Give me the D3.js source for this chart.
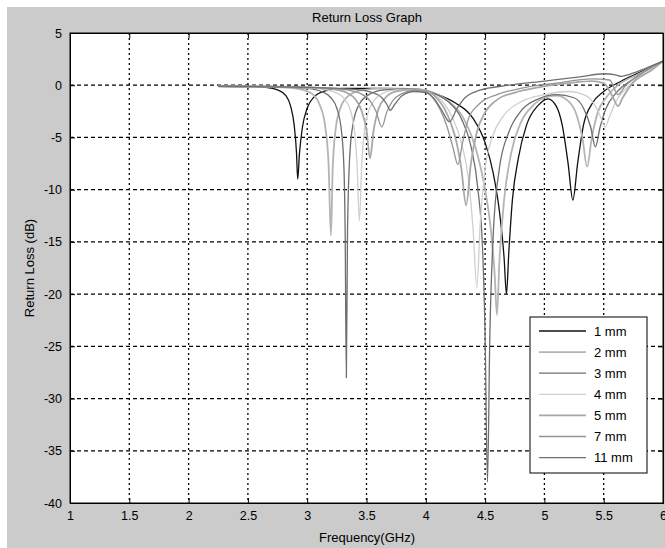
<!DOCTYPE html>
<html>
<head>
<meta charset="utf-8">
<script src="https://cdn.jsdelivr.net/npm/d3@7"></script>
<style>
  body { margin: 0; background: #fff; }
  text { font-family: "Liberation Sans", Arial, sans-serif; }
</style>
</head>
<body>
<svg id="chart" width="665" height="548"></svg>
<script>
// legend names
var names = ["1 mm", "2 mm", "3 mm", "4 mm", "5 mm", "7 mm", "11 mm"];

// [frequency GHz, return loss dB]
var s1 = [[2.25,-0.1],[2.5,-0.12],[2.65,-0.2],[2.75,-0.45],[2.82,-1.0],[2.86,-2.0],[2.89,-3.8],[2.91,-6.5],[2.92,-9],[2.935,-6.5],[2.96,-4.0],[3.0,-2.2],[3.06,-1.1],[3.15,-0.55],[3.3,-0.3],[3.6,-0.3],[3.9,-0.4],[4.1,-0.9],[4.25,-1.7],[4.4,-3.2],[4.5,-5.5],[4.57,-8.5],[4.62,-12],[4.66,-16.5],[4.68,-20],[4.70,-16],[4.73,-11],[4.78,-7],[4.85,-3.8],[4.95,-1.9],[5.03,-1.3],[5.1,-2.0],[5.15,-3.8],[5.2,-7.5],[5.24,-11],[5.28,-7.5],[5.33,-3.8],[5.4,-1.8],[5.5,-0.6],[5.65,0.4],[5.8,1.2],[6.0,2.3]];
var s2 = [[2.25,-0.1],[2.6,-0.12],[2.85,-0.25],[2.98,-0.5],[3.06,-1.0],[3.11,-2.0],[3.15,-3.8],[3.18,-7.5],[3.20,-14.4],[3.215,-8],[3.24,-4.2],[3.28,-2.2],[3.34,-1.1],[3.45,-0.5],[3.65,-0.3],[3.95,-0.4],[4.1,-0.9],[4.2,-1.6],[4.32,-3.2],[4.42,-6],[4.5,-10],[4.55,-14],[4.58,-18],[4.60,-22],[4.62,-17],[4.66,-11],[4.72,-6.5],[4.8,-3.6],[4.9,-2],[5.0,-1.2],[5.1,-1.0],[5.2,-1.5],[5.27,-2.8],[5.32,-5],[5.36,-7.8],[5.40,-5],[5.45,-2.6],[5.52,-1.2],[5.62,0],[5.8,1.1],[6.0,2.3]];
var s3 = [[2.25,-0.1],[2.7,-0.12],[3.0,-0.3],[3.12,-0.6],[3.2,-1.2],[3.25,-2.2],[3.29,-4.5],[3.31,-8],[3.32,-14],[3.33,-28],[3.34,-14],[3.36,-6.5],[3.39,-3.5],[3.44,-1.8],[3.52,-0.9],[3.65,-0.45],[3.9,-0.35],[4.05,-0.7],[4.18,-1.5],[4.3,-3.2],[4.38,-5.8],[4.44,-10],[4.48,-16],[4.50,-24],[4.52,-38],[4.54,-24],[4.57,-14],[4.62,-8],[4.7,-4.5],[4.8,-2.5],[4.95,-1.3],[5.1,-0.9],[5.25,-1.2],[5.33,-2.2],[5.39,-4],[5.43,-5.9],[5.47,-4],[5.52,-2.2],[5.6,-0.8],[5.75,0.6],[6.0,2.3]];
var s4 = [[2.25,-0.1],[2.8,-0.15],[3.1,-0.35],[3.24,-0.7],[3.32,-1.4],[3.37,-2.6],[3.40,-4.5],[3.42,-7.5],[3.44,-13],[3.46,-7.5],[3.49,-3.8],[3.54,-1.9],[3.62,-0.9],[3.75,-0.45],[3.95,-0.4],[4.05,-0.8],[4.15,-1.7],[4.23,-3.2],[4.3,-5.5],[4.36,-9],[4.40,-14],[4.43,-19.4],[4.46,-13],[4.5,-8],[4.56,-5],[4.65,-3],[4.8,-1.6],[5.0,-0.9],[5.2,-0.6],[5.35,-1],[5.43,-2],[5.48,-3.2],[5.51,-4],[5.55,-3],[5.6,-1.6],[5.7,-0.2],[5.85,1.1],[6.0,2.3]];
var s5 = [[2.25,-0.1],[2.9,-0.15],[3.2,-0.35],[3.33,-0.7],[3.41,-1.4],[3.46,-2.5],[3.5,-4.3],[3.53,-7],[3.56,-4.3],[3.6,-2.3],[3.66,-1.2],[3.75,-0.6],[3.9,-0.4],[4.0,-0.5],[4.08,-1.1],[4.15,-2.1],[4.21,-3.6],[4.26,-5.5],[4.30,-8],[4.34,-11.5],[4.38,-7.5],[4.43,-4.5],[4.5,-2.6],[4.6,-1.4],[4.75,-0.7],[4.95,-0.2],[5.2,0.2],[5.4,0.4],[5.5,0.2],[5.58,-1.2],[5.62,-2],[5.66,-1.2],[5.75,0.3],[5.9,1.4],[6.0,2.3]];
var s7 = [[2.25,-0.1],[3.0,-0.2],[3.3,-0.4],[3.45,-0.8],[3.53,-1.5],[3.58,-2.5],[3.63,-4],[3.67,-2.6],[3.72,-1.5],[3.8,-0.8],[3.9,-0.5],[4.0,-0.6],[4.06,-1.2],[4.12,-2.3],[4.18,-4],[4.23,-6],[4.27,-7.6],[4.31,-5.5],[4.36,-3.2],[4.45,-1.8],[4.6,-0.9],[4.8,-0.3],[5.1,0.2],[5.4,0.6],[5.55,0.5],[5.62,-0.9],[5.68,-0.1],[5.8,1.0],[6.0,2.3]];
var s11 = [[2.25,-0.1],[3.0,-0.2],[3.4,-0.4],[3.55,-0.7],[3.63,-1.2],[3.67,-1.8],[3.70,-2.4],[3.74,-1.8],[3.8,-1.0],[3.9,-0.6],[4.0,-0.7],[4.07,-1.3],[4.13,-2.3],[4.2,-3.5],[4.26,-2.3],[4.33,-1.2],[4.45,-0.5],[4.7,0],[5.0,0.4],[5.3,0.8],[5.5,1.1],[5.6,1.0],[5.65,0.85],[5.72,1.05],[5.85,1.6],[6.0,2.3]];

var xTicks = [1, 1.5, 2, 2.5, 3, 3.5, 4, 4.5, 5, 5.5, 6];
var yTicks = [5, 0, -5, -10, -15, -20, -25, -30, -35, -40];

var colors = ["#111111", "#b4b4b4", "#6e6e6e", "#cfcfcf", "#a8a8a8", "#949494", "#707070"];
var widths = [1.3, 1.8, 1.3, 1.3, 1.8, 1.3, 1.3];

var svg = d3.select("#chart"),
    margin = {top: 33, right: 2, bottom: 45, left: 70},
    width = +svg.attr("width") - margin.left - margin.right,
    height = +svg.attr("height") - margin.top - margin.bottom;

// figure background
svg.append("rect").attr("x", 7).attr("y", 7).attr("width", 658).attr("height", 541).attr("fill", "#cbcbcb");

var x = d3.scaleLinear().domain([1, 6]).range([0, width]),
    y = d3.scaleLinear().domain([-40, 5]).range([height, 0]);

var g = svg.append("g").attr("transform", "translate(" + margin.left + "," + margin.top + ")");

g.append("rect").attr("width", width).attr("height", height).attr("fill", "#fff");

g.append("clipPath").attr("id", "clip")
  .append("rect").attr("width", width).attr("height", height);

// grid
g.append("g").selectAll("line")
  .data(xTicks.slice(1, -1))
  .enter().append("line")
    .attr("x1", function(d) { return x(d); }).attr("x2", function(d) { return x(d); })
    .attr("y1", 0).attr("y2", height)
    .attr("stroke", "#000").attr("stroke-width", 1.3).attr("stroke-dasharray", "2,3");

g.append("g").selectAll("line")
  .data(yTicks.slice(1, -1))
  .enter().append("line")
    .attr("y1", function(d) { return y(d); }).attr("y2", function(d) { return y(d); })
    .attr("x1", 0).attr("x2", width)
    .attr("stroke", "#000").attr("stroke-width", 1.2).attr("stroke-dasharray", "4,3");

// axes
var fmt = function(d) { return String(d); };
g.append("g")
    .attr("transform", "translate(0," + height + ")")
    .call(d3.axisBottom(x).tickValues(xTicks).tickSize(-5).tickPadding(8).tickFormat(fmt));
g.append("g")
    .call(d3.axisLeft(y).tickValues(yTicks).tickSize(-5).tickPadding(8).tickFormat(fmt));
g.append("g").call(d3.axisTop(x).tickValues(xTicks).tickSize(-5).tickFormat(""));
g.append("g").attr("transform", "translate(" + width + ",0)")
  .call(d3.axisRight(y).tickValues(yTicks).tickSize(-5).tickFormat(""));

g.selectAll(".domain").attr("stroke", "#000");
g.selectAll(".tick line").attr("stroke", "#000");
g.selectAll(".tick text").attr("font-size", 12.5).attr("fill", "#000")
  .attr("font-family", "'Liberation Sans', Arial, sans-serif");

// curves
var series = [s1, s2, s3, s4, s5, s7, s11];

var line = d3.line()
    .curve(d3.curveMonotoneX)
    .x(function(d) { return x(d[0]); })
    .y(function(d) { return y(d[1]); });

g.append("g").attr("clip-path", "url(#clip)")
  .selectAll("path")
  .data(series)
  .enter().append("path")
    .attr("d", line)
    .attr("fill", "none")
    .attr("stroke", function(d, i) { return colors[i]; })
    .attr("stroke-width", function(d, i) { return widths[i]; });

g.append("rect").attr("width", width).attr("height", height)
  .attr("fill", "none").attr("stroke", "#000");

// legend
var lg = g.append("g").attr("transform", "translate(" + (530 - margin.left) + "," + (317 - margin.top) + ")");
lg.append("rect").attr("width", 117).attr("height", 156).attr("fill", "#fff").attr("stroke", "#000");
var item = lg.selectAll(".item").data(names).enter().append("g")
    .attr("transform", function(d, i) { return "translate(0," + (14 + i * 21.1) + ")"; });
item.append("line").attr("x1", 9).attr("x2", 56)
    .attr("stroke", function(d, i) { return colors[i]; })
    .attr("stroke-width", function(d, i) { return widths[i]; });
item.append("text").attr("x", 64).attr("dy", "0.35em").attr("font-size", 13).text(function(d) { return d; });

// titles
svg.append("text").attr("x", 367).attr("y", 22).attr("text-anchor", "middle")
  .attr("font-size", 13).text("Return Loss Graph");
svg.append("text").attr("x", 367).attr("y", 542).attr("text-anchor", "middle")
  .attr("font-size", 13).text("Frequency(GHz)");
svg.append("text").attr("transform", "translate(34," + (margin.top + height / 2) + ") rotate(-90)")
  .attr("text-anchor", "middle").attr("font-size", 13).text("Return Loss (dB)");
</script>
</body>
</html>
